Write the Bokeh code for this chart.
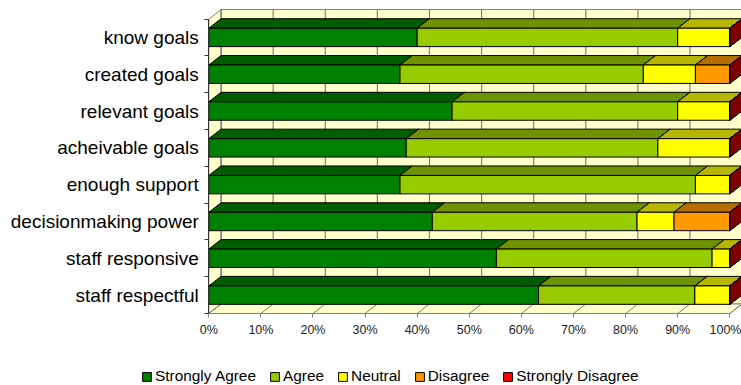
from bokeh.plotting import figure
from bokeh.models import FixedTicker, Legend, LegendItem, Range1d
from bokeh.embed import file_html
from bokeh.resources import INLINE

# Survey answers per statement, in percent (top row first)
categories = ["know goals", "created goals", "relevant goals", "acheivable goals",
              "enough support", "decisionmaking power", "staff responsive", "staff respectful"]
strongly_agree = [40.0, 36.7, 46.7, 37.9, 36.7, 42.9, 55.2, 63.3]
agree = [50.0, 46.7, 43.3, 48.3, 56.7, 39.3, 41.4, 30.0]
neutral = [10.0, 10.0, 10.0, 13.8, 6.6, 7.1, 3.4, 6.7]
disagree = [0.0, 6.6, 0.0, 0.0, 0.0, 10.7, 0.0, 0.0]
strongly_disagree = [0.0, 0.0, 0.0, 0.0, 0.0, 0.0, 0.0, 0.0]

series_names = ["Strongly Agree", "Agree", "Neutral", "Disagree", "Strongly Disagree"]
series_values = [strongly_agree, agree, neutral, disagree, strongly_disagree]
series_colors = ["#008000", "#99CC00", "#FFFF00", "#FF9900", "#FF0000"]

x_ticks = [0, 10, 20, 30, 40, 50, 60, 70, 80, 90, 100]
x_tick_labels = ["0%", "10%", "20%", "30%", "40%", "50%", "60%", "70%", "80%", "90%", "100%"]

# 3D look: depth offset of the back plane, in data units
DX = 2.36          # percent
DY = 0.258         # category bands
BAR_HALF = 0.25    # half height of a bar's front face
WALL = "#FFFFCC"
GRID = "#808080"

n = len(categories)


def shade(hex_color, f):
    h = hex_color.lstrip("#")
    r, g, b = (int(h[i:i + 2], 16) for i in (0, 2, 4))
    return "#%02x%02x%02x" % (int(r * f), int(g * f), int(b * f))


# the frame covers the whole canvas; axes are pinned at 0 inside it
p = figure(width=741, height=385, output_backend="svg", toolbar_location=None,
           x_range=Range1d(-39.98, 102.25), y_range=Range1d(-1.956, 8.503),
           min_border=0, background_fill_color="white", border_fill_color="white")
p.outline_line_color = None
p.xgrid.visible = False
p.ygrid.visible = False

# walls and floor
p.patch([DX, 110, 110, DX], [DY, DY, n + DY, n + DY], fill_color=WALL, line_color=GRID, line_width=1)
p.patch([0, DX, DX, 0], [0, DY, n + DY, n], fill_color=WALL, line_color=GRID, line_width=1)
p.patch([0, 100, 100 + DX, DX], [0, 0, DY, DY], fill_color=WALL, line_color=GRID, line_width=1)

# gridlines on the back wall and the floor
p.multi_line([[t + DX, t + DX] for t in x_ticks], [[DY, n + DY] for _ in x_ticks],
             line_color=GRID, line_width=1.2)
p.multi_line([[t, t + DX] for t in x_ticks], [[0, DY] for _ in x_ticks],
             line_color=GRID, line_width=1)

# stacked 3D bars, left to right so later faces cover earlier ones
left = [0.0] * n
legend_items = []
for name, vals, col in zip(series_names, series_values, series_colors):
    front_x, front_y, top_x, top_y, side_x, side_y = [], [], [], [], [], []
    for i, v in enumerate(vals):
        yc = n - i - 0.5
        y0, y1 = yc - BAR_HALF, yc + BAR_HALF
        x0, x1 = left[i], left[i] + v
        front_x.append([x0, x1, x1, x0])
        front_y.append([y0, y0, y1, y1])
        top_x.append([x0, x1, x1 + DX, x0 + DX])
        top_y.append([y1, y1, y1 + DY, y1 + DY])
        side_x.append([x1, x1 + DX, x1 + DX, x1])
        side_y.append([y0, y0 + DY, y1 + DY, y1])
        left[i] = x1
    p.patches(top_x, top_y, fill_color=shade(col, 0.72), line_color="black", line_width=1)
    p.patches(side_x, side_y, fill_color=shade(col, 0.5), line_color="black", line_width=1)
    r = p.patches(front_x, front_y, fill_color=col, line_color="black", line_width=1)
    legend_items.append(LegendItem(label=name, renderers=[r]))

# category axis: labels at band centres, tick marks at band edges
yax = p.yaxis[0]
yax.fixed_location = 0
yax.bounds = (0, n)
yax.ticker = FixedTicker(ticks=[n - i - 0.5 for i in range(n)],
                         minor_ticks=[float(k) for k in range(n + 1)])
yax.major_label_overrides = {n - i - 0.5: c for i, c in enumerate(categories)}
yax.major_tick_line_color = None
yax.major_tick_out = 4
yax.major_label_standoff = 6
yax.minor_tick_out = 4
yax.minor_tick_in = 0
yax.minor_tick_line_color = "#333333"
yax.axis_line_color = "#333333"
yax.major_label_text_font = "Liberation Sans"
yax.major_label_text_font_size = "19px"
yax.major_label_text_color = "black"

xax = p.xaxis[0]
xax.fixed_location = 0
xax.bounds = (0, 100)
xax.ticker = FixedTicker(ticks=x_ticks, minor_ticks=[])
xax.major_label_overrides = dict(zip(x_ticks, x_tick_labels))
xax.major_tick_out = 4
xax.major_tick_in = 0
xax.major_tick_line_color = "#808080"
xax.axis_line_color = "#808080"
xax.major_label_standoff = 6
xax.major_label_text_font = "Liberation Sans"
xax.major_label_text_font_size = "12.5px"
xax.major_label_text_color = "#222222"

legend = Legend(items=legend_items, orientation="horizontal", location=(141, 0),
                border_line_color=None, background_fill_alpha=0, padding=0, margin=0,
                spacing=13, glyph_width=11, glyph_height=11, label_standoff=3,
                label_text_font="Liberation Sans", label_text_font_size="15.4px",
                label_text_color="black", label_height=18)
p.add_layout(legend)

open("out.html", "w").write(file_html(p, INLINE))
